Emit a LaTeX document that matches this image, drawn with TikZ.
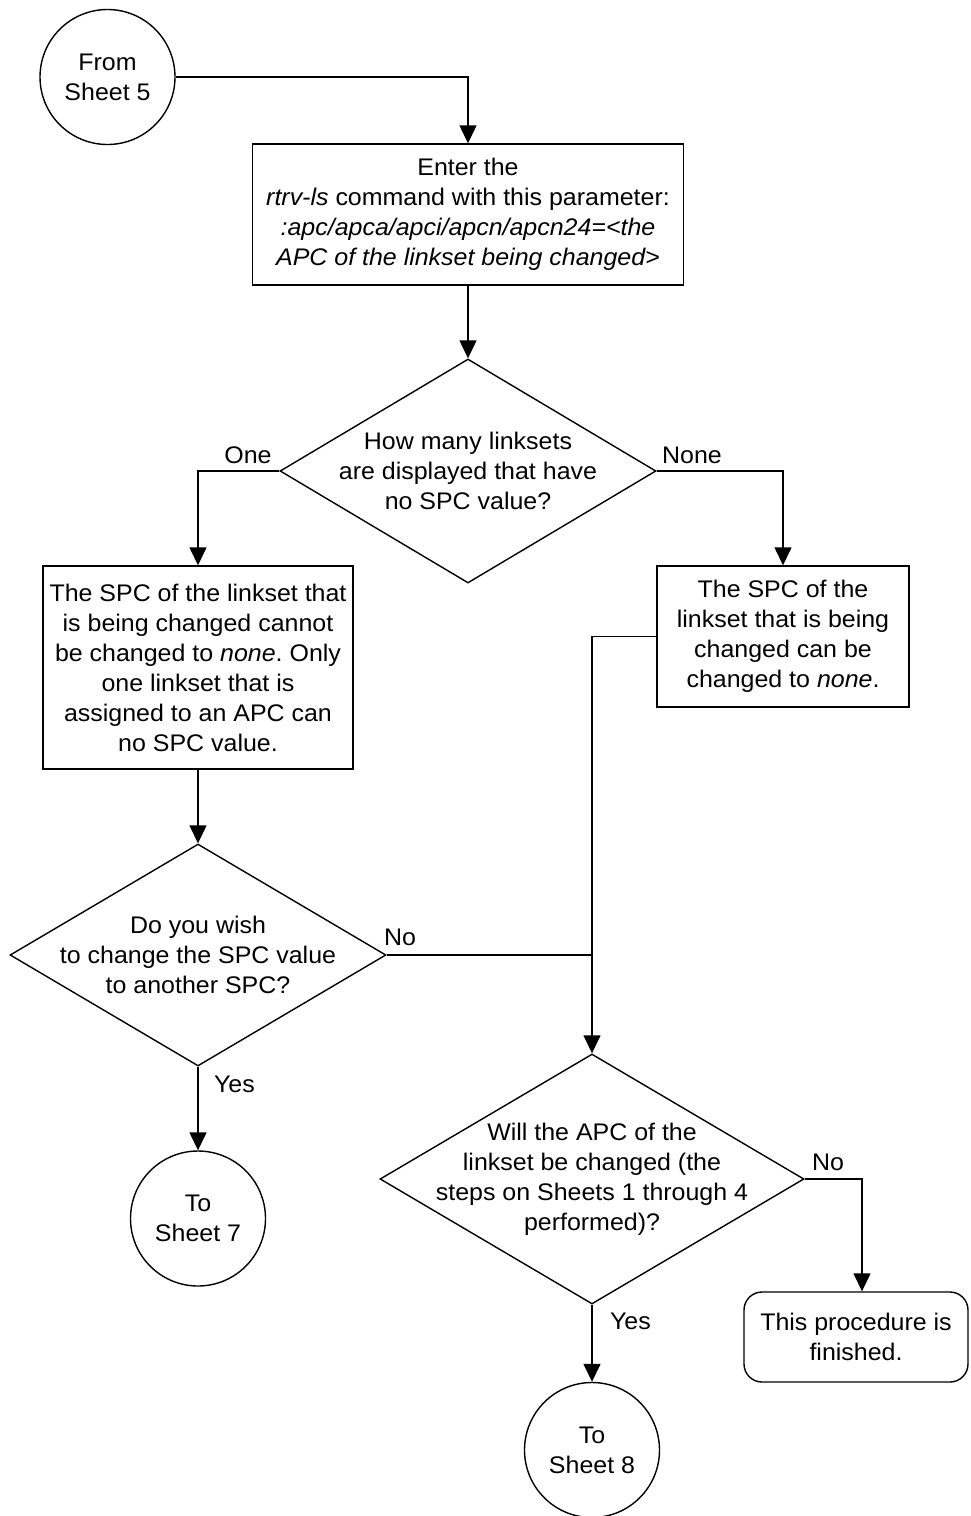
\documentclass[tikz,border=0pt]{standalone}
\usepackage{fontspec}
\setmainfont{Liberation Sans}[FakeStretch=1.04]
\usetikzlibrary{shapes.geometric}
\usetikzlibrary{arrows.meta}
\frenchspacing

\begin{document}
\begin{tikzpicture}[x=1pt, y=-1pt, line width=1.4pt,
	every node/.style={font=\fontsize{24}{30}\selectfont},
	sheet/.style={circle, draw, minimum size=135pt, inner sep=0pt, align=center},
	process/.style={rectangle, draw, inner sep=0pt, align=center},
	decision/.style={diamond, draw, inner sep=0pt},
	finish/.style={rectangle, rounded corners=18pt, draw, inner sep=0pt, align=center},
	flow/.style={-{Triangle[length=18pt, width=17pt]}},
	choice/.style={anchor=base}]
	\useasboundingbox (0,0) rectangle (970,1516);
	
	% Off-page connectors
	\node[sheet] (from5) at (107.5,77) {From\\Sheet 5};
	\node[sheet] (to7) at (198,1218.5) {To\\Sheet 7};
	\node[sheet] (to8) at (592,1450) {To\\Sheet 8};
	
	% Steps
	\node[process, minimum width=431pt, minimum height=141pt] (rtrv) at (468,214.5)
	{Enter the\\\textit{rtrv-ls} command with this parameter:\\\textit{:apc/apca/apci/apcn/apcn24=<the}\\\textit{APC of the linkset being changed>}};
	\node[process, minimum width=310pt, minimum height=203pt] (cannot) at (198,667.5)
	{The SPC of the linkset that\\is being changed cannot\\be changed to \textit{none}. Only\\one linkset that is\\assigned to an APC can\\no SPC value.};
	\node[process, minimum width=252pt, minimum height=141pt] (can) at (783,636.5)
	{The SPC of the\\linkset that is being\\changed can be\\changed to \textit{none}.};
	\node[finish, minimum width=224pt, minimum height=90pt] (done) at (856,1337)
	{This procedure is\\finished.};
	
	% Questions
	\node[decision, minimum width=376pt, minimum height=224pt,
	label={[align=center]center:{How many linksets\\are displayed that have\\no SPC value?}}] (howmany) at (468,471) {};
	\node[decision, minimum width=376pt, minimum height=222pt,
	label={[align=center]center:{Do you wish\\to change the SPC value\\to another SPC?}}] (wish) at (198,955) {};
	\node[decision, minimum width=424pt, minimum height=250pt,
	label={[align=center]center:{Will the APC of the\\linkset be changed (the\\steps on Sheets 1 through 4\\performed)?}}] (apc) at (592,1179) {};
	
	% Connectors
	\coordinate (join) at (apc.north |- wish.east);
	\draw[flow] (from5.east) -| (rtrv.north);
	\draw[flow] (rtrv.south) -- (howmany.north);
	\draw[flow] (howmany.west) -| (cannot.north);
	\draw[flow] (howmany.east) -| (can.north);
	\draw[flow] (cannot.south) -- (wish.north);
	\draw[flow] (wish.south) -- (to7.north);
	\draw[flow] (can.west) -| (apc.north);
	\draw (wish.east) -- (join);
	\draw[flow] (apc.east) -| ([xshift=6pt]done.north);
	\draw[flow] (apc.south) -- (to8.north);
	
	% Answers
	\node[choice] (one) at (248,463) {One};
	\node[choice] (none) at (692,463) {None};
	\node[choice] (wishno) at (400,945) {No};
	\node[choice, anchor=base west] (wishyes) at (210,1092) {Yes};
	\node[choice] (apcno) at (828,1170) {No};
	\node[choice, anchor=base west] (apcyes) at (606,1329) {Yes};
\end{tikzpicture}
\end{document}
